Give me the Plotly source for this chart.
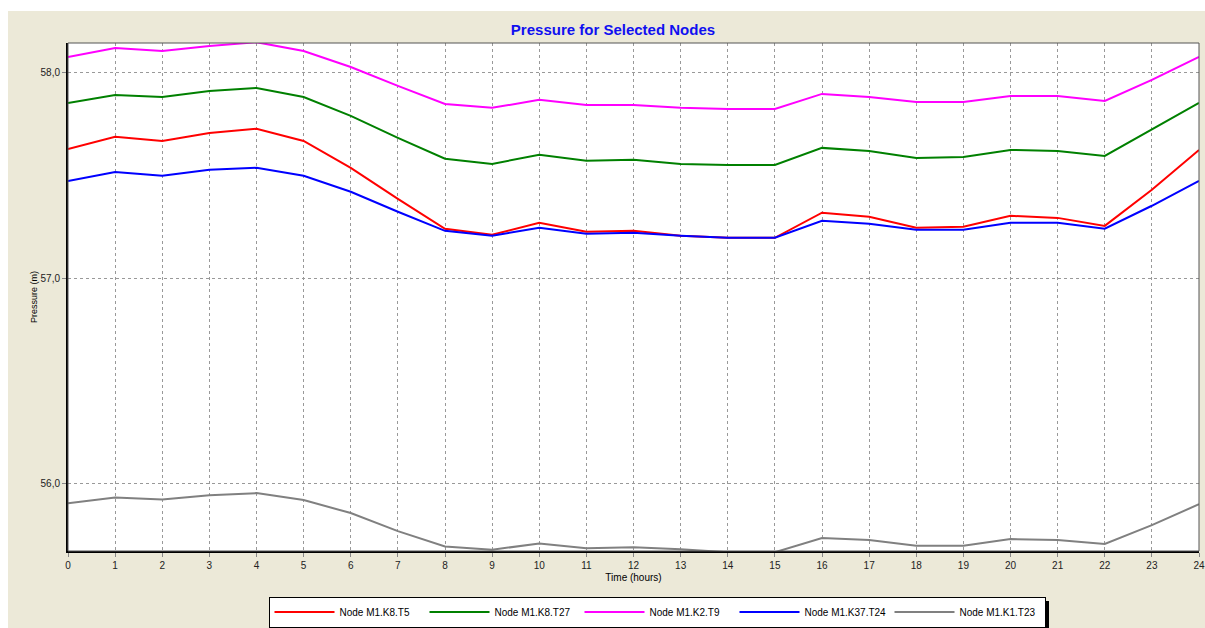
import plotly.graph_objects as go

hours = list(range(25))

node_k8_t5 = [57.630, 57.689, 57.669, 57.708, 57.728, 57.669, 57.538, 57.387, 57.241, 57.212,
              57.270, 57.226, 57.231, 57.207, 57.197, 57.197, 57.319, 57.299, 57.246, 57.251,
              57.304, 57.294, 57.255, 57.431, 57.625]
node_k8_t27 = [57.854, 57.893, 57.883, 57.912, 57.927, 57.883, 57.791, 57.684, 57.582, 57.557,
               57.601, 57.572, 57.577, 57.557, 57.552, 57.552, 57.635, 57.620, 57.586, 57.591,
               57.625, 57.620, 57.596, 57.723, 57.854]
node_k2_t9 = [58.078, 58.122, 58.107, 58.131, 58.150, 58.107, 58.029, 57.937, 57.849, 57.830,
              57.869, 57.844, 57.844, 57.830, 57.825, 57.825, 57.898, 57.883, 57.859, 57.859,
              57.888, 57.888, 57.864, 57.966, 58.078]
node_k37_t24 = [57.474, 57.518, 57.499, 57.528, 57.538, 57.499, 57.421, 57.324, 57.231, 57.207,
                57.246, 57.217, 57.221, 57.207, 57.197, 57.197, 57.280, 57.265, 57.236, 57.236,
                57.270, 57.270, 57.241, 57.353, 57.474]
node_k1_t23 = [55.904, 55.932, 55.922, 55.943, 55.953, 55.919, 55.856, 55.768, 55.693, 55.677,
               55.708, 55.684, 55.689, 55.679, 55.665, 55.665, 55.734, 55.724, 55.697, 55.697,
               55.729, 55.724, 55.705, 55.797, 55.899]

series_names = ["Node M1.K8.T5", "Node M1.K8.T27", "Node M1.K2.T9", "Node M1.K37.T24", "Node M1.K1.T23"]
series_values = [node_k8_t5, node_k8_t27, node_k2_t9, node_k37_t24, node_k1_t23]
series_colors = ["#FF0000", "#008000", "#FF00FF", "#0000FF", "#808080"]

y_ticks = [56, 57, 58]
y_range = [55.671, 58.146]

W, H = 1205, 628
ML, MR, MT, MB = 68, 6, 43, 77
PW, PH = W - ML - MR, H - MT - MB


def px_x(x):
    return (x - ML) / PW


def px_y(y):
    return (H - MB - y) / PH


fig = go.Figure()
for name, vals, col in zip(series_names, series_values, series_colors):
    fig.add_trace(go.Scatter(x=hours, y=vals, name=name, mode="lines",
                             line=dict(color=col, width=2)))

LEG_CX, LEG_CY = 657, 612
LEG_W, LEG_H = 778, 28

shapes = [
    # beige panel
    dict(type="rect", xref="paper", yref="paper", layer="below",
         x0=px_x(8), x1=px_x(W + 5), y0=px_y(H + 5), y1=px_y(11),
         fillcolor="#ECE9D8", line=dict(width=0)),
    # white plot area
    dict(type="rect", xref="paper", yref="paper", layer="below",
         x0=0, x1=1, y0=0, y1=1, fillcolor="white", line=dict(width=0)),
    # thin frame
    dict(type="rect", xref="paper", yref="paper", layer="above",
         x0=0, x1=1, y0=0, y1=1, line=dict(color="#555555", width=1)),
    # legend shadow
    dict(type="rect", xref="paper", yref="paper", layer="above",
         x0=px_x(LEG_CX - LEG_W / 2 + 3), x1=px_x(LEG_CX + LEG_W / 2 + 3),
         y0=px_y(LEG_CY + LEG_H / 2 + 3), y1=px_y(LEG_CY - LEG_H / 2 + 3),
         fillcolor="black", line=dict(width=0)),
]

fig.update_layout(
    width=W, height=H,
    margin=dict(l=ML, r=MR, t=MT, b=MB, autoexpand=False),
    paper_bgcolor="white", plot_bgcolor="white",
    separators=",.",
    font=dict(family="Liberation Sans, Arial, sans-serif", size=10, color="#222222"),
    title=dict(text="<b>Pressure for Selected Nodes</b>", x=613 / W, xref="container", xanchor="center",
               y=1 - 30 / H, yanchor="middle",
               font=dict(size=15, color="#1010F0", family="Liberation Sans, Arial, sans-serif")),
    shapes=shapes,
    showlegend=True,
    legend=dict(orientation="h", x=px_x(LEG_CX), xanchor="center",
                y=px_y(LEG_CY), yanchor="middle",
                bgcolor="white", bordercolor="black", borderwidth=1,
                font=dict(size=10, color="black"),
                entrywidth=80, entrywidthmode="pixels",
                itemwidth=60, tracegroupgap=0),
)

fig.update_xaxes(range=[0, 24], tickmode="linear", tick0=0, dtick=1,
                 showgrid=True, gridcolor="#999999", griddash="3px,3px", gridwidth=1,
                 showline=True, linecolor="black", linewidth=2,
                 ticks="outside", ticklen=4, tickcolor="#888888",
                 zeroline=False,
                 title=dict(text="Time (hours)", font=dict(size=10, color="black"), standoff=4),
                 tickfont=dict(size=10, color="#222222"))
fig.update_yaxes(range=y_range, tickvals=y_ticks, tickformat=".1f",
                 showgrid=True, gridcolor="#999999", griddash="3px,3px", gridwidth=1,
                 showline=True, linecolor="black", linewidth=2,
                 ticks="outside", ticklen=4, tickcolor="#888888",
                 zeroline=False,
                 title=dict(text="Pressure (m)", font=dict(size=9, color="black"), standoff=1),
                 tickfont=dict(size=10, color="#222222"))

fig.write_html("out.html")
